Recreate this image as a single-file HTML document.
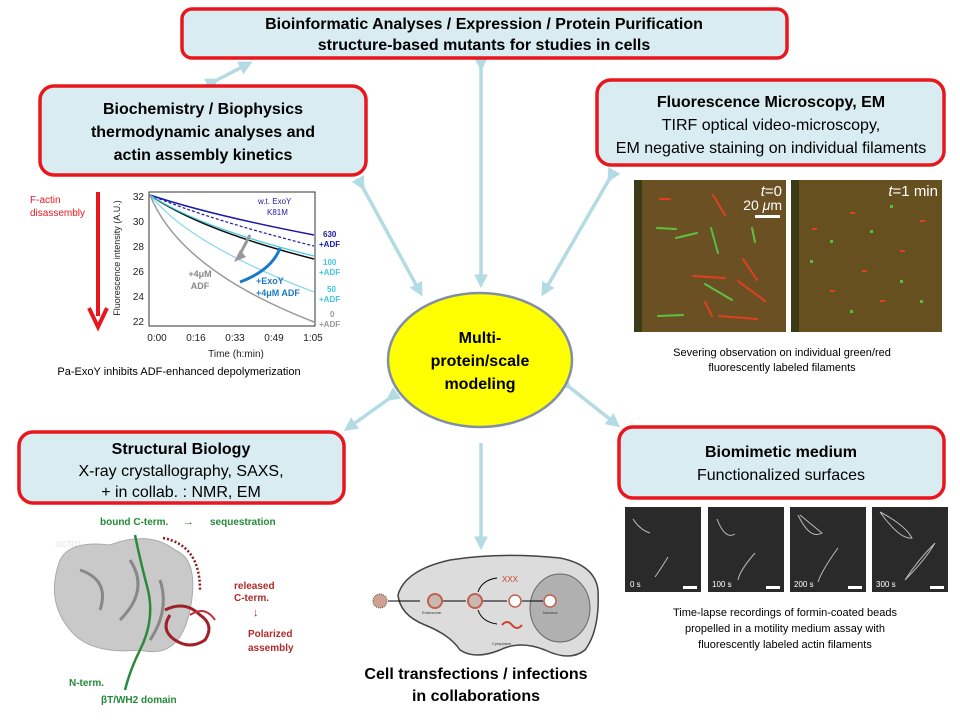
<!DOCTYPE html>
<html><head><meta charset="utf-8"><style>
html,body{margin:0;padding:0;background:#fff}
svg{display:block}
text{font-family:"Liberation Sans",sans-serif}
.bx{fill:#d9ecf1;stroke:#e8171d;stroke-width:3.5}
.t{font-size:16px;fill:#000;text-anchor:middle}
.b{font-weight:bold}
.cap{font-size:11px;fill:#000;text-anchor:middle}
.ar{stroke:#b3dbe3;stroke-width:3.5;fill:none}
</style></head><body>
<svg width="960" height="720" viewBox="0 0 960 720" xmlns="http://www.w3.org/2000/svg">
<defs>
<marker id="m" markerWidth="4" markerHeight="4" refX="2.5" refY="2" orient="auto" markerUnits="strokeWidth"><path d="M0,0 L4,2 L0,4 z" fill="#b3dbe3"/></marker>
</defs>
<!-- arrows -->
<line class="ar" x1="215" y1="81" x2="248" y2="64" marker-start="url(#m)" marker-end="url(#m)"/>
<line class="ar" x1="481" y1="66" x2="481" y2="283" marker-start="url(#m)" marker-end="url(#m)"/>
<line class="ar" x1="362" y1="186" x2="420" y2="292" marker-start="url(#m)" marker-end="url(#m)"/>
<line class="ar" x1="610" y1="178" x2="544" y2="292" marker-start="url(#m)" marker-end="url(#m)"/>
<line class="ar" x1="390" y1="398" x2="348" y2="428" marker-start="url(#m)" marker-end="url(#m)"/>
<line class="ar" x1="568" y1="386" x2="616" y2="424" marker-start="url(#m)" marker-end="url(#m)"/>
<line class="ar" x1="481" y1="443" x2="481" y2="545" marker-end="url(#m)"/>

<!-- boxes -->
<rect class="bx" x="182" y="9" width="605" height="49" rx="10"/>
<text class="t b" x="484" y="29">Bioinformatic Analyses / Expression / Protein Purification</text>
<text class="t b" x="484" y="50">structure-based mutants for studies in cells</text>

<rect class="bx" x="40" y="86" width="326" height="89" rx="14"/>
<text class="t b" x="203" y="114">Biochemistry / Biophysics</text>
<text class="t b" x="203" y="137">thermodynamic analyses and</text>
<text class="t b" x="203" y="160">actin assembly kinetics</text>

<rect class="bx" x="597" y="80" width="347" height="85" rx="14"/>
<text class="t b" x="771" y="107">Fluorescence Microscopy, EM</text>
<text class="t" x="771" y="130">TIRF optical video-microscopy,</text>
<text class="t" x="771" y="153">EM negative staining on individual filaments</text>

<rect class="bx" x="19" y="432" width="325" height="71" rx="14"/>
<text class="t b" x="181" y="454">Structural Biology</text>
<text class="t" x="181" y="476">X-ray crystallography, SAXS,</text>
<text class="t" x="181" y="497">+ in collab. : NMR, EM</text>

<rect class="bx" x="619" y="427" width="325" height="71" rx="14"/>
<text class="t b" x="781" y="457">Biomimetic medium</text>
<text class="t" x="781" y="480">Functionalized surfaces</text>

<!-- center ellipse -->
<ellipse cx="480" cy="360" rx="92" ry="67" fill="#ffff00" stroke="#7f8fa6" stroke-width="2.5"/>
<text class="t b" x="480" y="343" font-size="17">Multi-</text>
<text class="t b" x="480" y="366" font-size="17">protein/scale</text>
<text class="t b" x="480" y="389" font-size="17">modeling</text>

<!-- chart -->
<text x="30" y="203" font-size="10" fill="#e8171d">F-actin</text>
<text x="30" y="216" font-size="10" fill="#e8171d">disassembly</text>
<line x1="98" y1="192" x2="98" y2="316" stroke="#e8171d" stroke-width="4"/>
<path d="M89,308 L98,327 L107,308" fill="none" stroke="#e8171d" stroke-width="4"/>
<rect x="149" y="192" width="166" height="134" fill="#fff" stroke="#333" stroke-width="1"/>
<g font-size="10" fill="#222">
<text x="144" y="200" text-anchor="end">32</text><text x="144" y="225" text-anchor="end">30</text>
<text x="144" y="250" text-anchor="end">28</text><text x="144" y="275" text-anchor="end">26</text>
<text x="144" y="300" text-anchor="end">24</text><text x="144" y="325" text-anchor="end">22</text>
<text x="157" y="341" text-anchor="middle">0:00</text><text x="196" y="341" text-anchor="middle">0:16</text>
<text x="235" y="341" text-anchor="middle">0:33</text><text x="274" y="341" text-anchor="middle">0:49</text>
<text x="313" y="341" text-anchor="middle">1:05</text>
<text x="236" y="357" text-anchor="middle">Time (h:min)</text>
<text transform="translate(120,258) rotate(-90)" text-anchor="middle" font-size="9">Fluorescence intensity (A.U.)</text>
</g>
<path d="M150,195 Q210,215 314,235" stroke="#1a1aa8" stroke-width="1.5" fill="none"/>
<path d="M150,195 Q210,220 314,246" stroke="#1a1aa8" stroke-width="1.2" fill="none" stroke-dasharray="3,2"/>
<path d="M150,195 Q200,230 314,259" stroke="#111" stroke-width="1.5" fill="none"/>
<path d="M150,195 Q200,228 314,256" stroke="#40c8e0" stroke-width="1.2" fill="none"/>
<path d="M150,195 Q190,245 314,292" stroke="#80d8e8" stroke-width="1.2" fill="none"/>
<path d="M150,195 Q180,270 314,322" stroke="#999" stroke-width="1.5" fill="none"/>
<path d="M250,235 L238,258" stroke="#999" stroke-width="3"/>
<path d="M240,250 L234,262 L246,257" fill="#999"/>
<path d="M240,282 Q272,270 280,248" stroke="#1a7ac8" stroke-width="3" fill="none"/>
<text x="200" y="277" font-size="9" fill="#888" font-weight="bold" text-anchor="middle">+4μM</text>
<text x="200" y="289" font-size="9" fill="#888" font-weight="bold" text-anchor="middle">ADF</text>
<text x="256" y="284" font-size="9" fill="#1a7ac8" font-weight="bold">+ExoY</text>
<text x="256" y="296" font-size="9" fill="#1a7ac8" font-weight="bold">+4μM ADF</text>
<text x="258" y="204" font-size="8" fill="#1a1aa8">w.t. ExoY</text>
<text x="267" y="215" font-size="8" fill="#1a1aa8">K81M</text>
<g font-size="8" font-weight="bold">
<text x="323" y="237" fill="#1a1aa8">630</text><text x="319" y="247" fill="#1a1aa8">+ADF</text>
<text x="323" y="265" fill="#40c8e0">100</text><text x="319" y="275" fill="#40c8e0">+ADF</text>
<text x="327" y="292" fill="#40c8e0">50</text><text x="319" y="302" fill="#40c8e0">+ADF</text>
<text x="330" y="317" fill="#999">0</text><text x="319" y="327" fill="#999">+ADF</text>
</g>
<text x="179" y="375" font-size="11" text-anchor="middle">Pa-ExoY inhibits ADF-enhanced  depolymerization</text>

<!-- microscopy -->
<rect x="634" y="180" width="152" height="152" fill="#6b5024"/>
<rect x="791" y="180" width="151" height="152" fill="#67501f"/>
<rect x="634" y="180" width="8" height="152" fill="#3d3a18"/>
<rect x="791" y="180" width="8" height="152" fill="#3d3a18"/>
<g stroke-width="2" stroke-linecap="round">
<line x1="711" y1="228" x2="718" y2="253" stroke="#50c040"/>
<line x1="738" y1="281" x2="765" y2="301" stroke="#e04020"/>
<line x1="705" y1="284" x2="732" y2="300" stroke="#60c040"/>
<line x1="693" y1="276" x2="725" y2="278" stroke="#e04020"/>
<line x1="743" y1="259" x2="757" y2="280" stroke="#e04020"/>
<line x1="719" y1="316" x2="757" y2="319" stroke="#e04020"/>
<line x1="658" y1="316" x2="683" y2="315" stroke="#60c040"/>
<line x1="713" y1="195" x2="725" y2="215" stroke="#e04020"/>
<line x1="657" y1="228" x2="676" y2="229" stroke="#60c040"/>
<line x1="676" y1="238" x2="697" y2="233" stroke="#60c040"/>
<line x1="705" y1="302" x2="712" y2="316" stroke="#e04020"/>
<line x1="660" y1="199" x2="670" y2="199" stroke="#e04020"/>
<line x1="752" y1="228" x2="755" y2="242" stroke="#60c040"/>
</g>
<g fill="#e04020"><rect x="812" y="228" width="5" height="2"/><rect x="850" y="212" width="5" height="2"/><rect x="900" y="250" width="5" height="2"/><rect x="830" y="290" width="5" height="2"/><rect x="880" y="300" width="5" height="2"/><rect x="920" y="220" width="5" height="2"/><rect x="862" y="270" width="5" height="2"/></g>
<g fill="#50c040"><rect x="830" y="240" width="3" height="3"/><rect x="870" y="230" width="3" height="3"/><rect x="900" y="280" width="3" height="3"/><rect x="850" y="310" width="3" height="3"/><rect x="920" y="300" width="3" height="3"/><rect x="810" y="260" width="3" height="3"/><rect x="890" y="205" width="3" height="3"/></g>
<text x="782" y="196" font-size="15" fill="#fff" text-anchor="end"><tspan font-style="italic">t</tspan>=0</text>
<text x="782" y="210" font-size="14" fill="#fff" text-anchor="end">20 <tspan font-style="italic">μ</tspan>m</text>
<rect x="755" y="215" width="25" height="3" fill="#fff"/>
<text x="938" y="196" font-size="15" fill="#fff" text-anchor="end"><tspan font-style="italic">t</tspan>=1 min</text>
<text class="cap" x="782" y="356">Severing  observation  on individual  green/red</text>
<text class="cap" x="782" y="371">fluorescently labeled filaments</text>

<!-- biomimetic frames -->
<g fill="#2a2a2a">
<rect x="625" y="507" width="76" height="85"/><rect x="708" y="507" width="76" height="85"/>
<rect x="790" y="507" width="76" height="85"/><rect x="872" y="507" width="76" height="85"/>
</g>
<g stroke="#bbb" stroke-width="1" fill="none">
<path d="M633,519 Q640,530 650,533"/><path d="M668,557 Q660,570 655,577"/>
<path d="M717,519 Q725,540 735,534"/><path d="M755,553 Q740,570 738,580"/>
<path d="M798,515 Q810,540 822,533 Q812,525 800,515"/><path d="M838,548 Q822,570 818,582"/>
<path d="M880,512 Q900,540 912,538 Q905,525 880,512"/><path d="M935,543 Q918,560 905,580 Q925,560 935,543"/>
</g>
<g fill="#fff" font-family="Liberation Serif" font-size="8">
<text x="630" y="587">0 s</text><text x="712" y="587">100 s</text><text x="794" y="587">200 s</text><text x="876" y="587">300 s</text>
</g>
<g fill="#fff"><rect x="683" y="586" width="14" height="3"/><rect x="766" y="586" width="14" height="3"/><rect x="848" y="586" width="14" height="3"/><rect x="930" y="586" width="14" height="3"/></g>
<text class="cap" x="785" y="616">Time-lapse  recordings  of formin-coated  beads</text>
<text class="cap" x="785" y="632">propelled  in a motility medium assay with</text>
<text class="cap" x="785" y="648">fluorescently labeled actin filaments</text>

<!-- structure -->
<text x="100" y="525" font-size="10" font-weight="bold" fill="#228a3a">bound C-term.</text>
<text x="183" y="525" font-size="11" fill="#228a3a">→</text>
<text x="210" y="525" font-size="10" font-weight="bold" fill="#228a3a">sequestration</text>
<text x="55" y="547" font-size="11" font-weight="bold" fill="#eee">actin</text>
<path d="M60,560 Q70,540 110,545 Q150,530 175,550 Q200,560 190,610 Q180,660 140,650 Q90,655 70,630 Q45,600 60,560z" fill="#c9c9c9" stroke="#aaa"/>
<path d="M80,570 Q110,580 100,610 M130,560 Q150,590 120,620 M160,580 Q170,610 150,640" stroke="#888" stroke-width="3" fill="none"/>
<path d="M135,535 Q140,560 148,590 Q155,620 140,650 Q130,670 125,690" stroke="#2a8a3a" stroke-width="2.5" fill="none"/>
<path d="M165,610 Q185,600 200,615 Q215,625 205,640 Q190,650 175,640 Q160,630 170,615" stroke="#a02028" stroke-width="3" fill="none"/>
<path d="M190,615 Q205,605 215,620" stroke="#c03040" stroke-width="2" fill="none"/>
<path d="M163,538 Q200,545 200,590" stroke="#8b1a1a" stroke-width="2.5" fill="none" stroke-dasharray="2,2"/>
<text x="234" y="589" font-size="10" font-weight="bold" fill="#b02a2a">released</text>
<text x="234" y="601" font-size="10" font-weight="bold" fill="#b02a2a">C-term.</text>
<text x="253" y="616" font-size="11" fill="#b02a2a">↓</text>
<text x="248" y="637" font-size="10" font-weight="bold" fill="#b02a2a">Polarized</text>
<text x="248" y="651" font-size="10" font-weight="bold" fill="#b02a2a">assembly</text>
<text x="69" y="686" font-size="10" font-weight="bold" fill="#228a3a">N-term.</text>
<text x="101" y="703" font-size="10" font-weight="bold" fill="#228a3a">βT/WH2 domain</text>

<!-- cell -->
<path d="M398,595 Q405,570 450,560 Q500,552 560,558 Q595,565 598,590 Q600,630 585,650 Q570,662 545,650 Q520,640 500,650 Q475,660 460,650 Q450,635 425,625 Q400,615 398,595z" fill="#dcdcdc" stroke="#444" stroke-width="1.5"/>
<ellipse cx="560" cy="608" rx="30" ry="34" fill="#b0b0b0" stroke="#666"/>
<circle cx="380" cy="601" r="7" fill="#d0a090" stroke="#555" stroke-dasharray="1,1"/>
<line x1="388" y1="601" x2="420" y2="601" stroke="#000"/>
<circle cx="435" cy="601" r="7" fill="#c9b8b0" stroke="#c06050" stroke-width="2"/>
<line x1="443" y1="601" x2="466" y2="601" stroke="#000"/>
<circle cx="475" cy="601" r="7" fill="#c9b8b0" stroke="#c06050" stroke-width="2"/>
<line x1="483" y1="601" x2="507" y2="601" stroke="#000"/>
<circle cx="515" cy="601" r="6" fill="#fff" stroke="#c06050" stroke-width="1.5"/>
<line x1="522" y1="601" x2="543" y2="601" stroke="#000"/>
<circle cx="550" cy="601" r="6" fill="#fff" stroke="#c06050" stroke-width="1.5"/>
<path d="M478,592 Q482,580 497,578 M478,610 Q482,622 497,624" stroke="#000" fill="none"/>
<text x="502" y="582" font-size="8" fill="#d04030">XXX</text>
<path d="M502,625 q5,-6 10,0 q5,6 10,0" stroke="#d04030" stroke-width="2" fill="none"/>
<text x="543" y="614" font-size="4" fill="#333">Nucleus</text>
<text x="492" y="645" font-size="4" fill="#333">Cytoplasm</text>
<text x="422" y="614" font-size="4" fill="#333">Endosome</text>
<text class="t b" x="476" y="679" font-size="15">Cell transfections / infections</text>
<text class="t b" x="476" y="701" font-size="15">in collaborations</text>
</svg>
</body></html>
